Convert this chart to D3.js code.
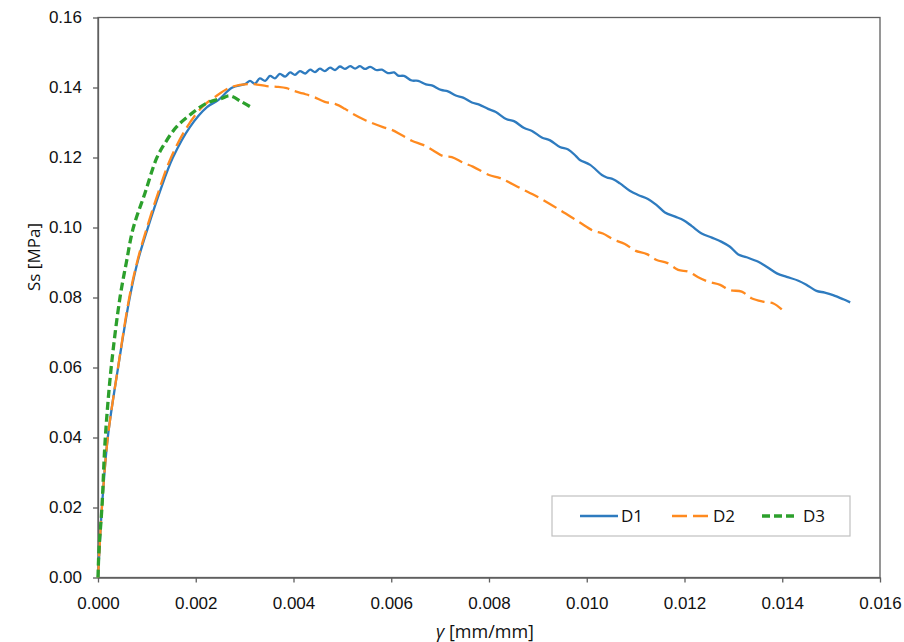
<!DOCTYPE html>
<meta charset="utf-8">
<style>
body { margin: 0; background: #fff; }
svg { font-family: "Open Sans", "Noto Sans", sans-serif; }
</style>
<svg width="904" height="642"></svg>
<script src="https://d3js.org/d3.v7.min.js"></script>
<script>

// D1 (blue, solid)
var d1x = [0, 0.00003, 0.00008, 0.00020, 0.00041, 0.00065, 0.00082, 0.00102, 0.00127, 0.00153, 0.00188, 0.00223, 0.00246, 0.00274, 0.00301,
  0.00311, 0.00321, 0.00331, 0.00342, 0.00352, 0.00362, 0.00372, 0.00383, 0.00393, 0.00403, 0.00413, 0.00424, 0.00434, 0.00444,
  0.00454, 0.00464, 0.00475, 0.00485, 0.00495, 0.00505, 0.00516, 0.00526, 0.00536, 0.00546, 0.00557, 0.00569, 0.00581, 0.00593, 0.00606,
  0.00614, 0.00626, 0.00642, 0.00655, 0.00671, 0.00683, 0.00702, 0.00716, 0.00732, 0.00747, 0.00765, 0.00780, 0.00798, 0.00814,
  0.00835, 0.00851, 0.00872, 0.00888, 0.00908, 0.00925, 0.00945, 0.00962, 0.00978,
  0.00986, 0.01007, 0.01031, 0.01041, 0.01054, 0.01068, 0.01088, 0.01105, 0.01126, 0.01143, 0.01160, 0.01181, 0.01198, 0.01215,
  0.01235, 0.01256, 0.01276, 0.01293, 0.01310, 0.01327, 0.01351, 0.01368, 0.01389, 0.01409, 0.01433, 0.01450, 0.01470, 0.01487,
  0.01504, 0.01525, 0.01539];
var d1y = [0, 0.0079, 0.0200, 0.0400, 0.0599, 0.0800, 0.0907, 0.0999, 0.1104, 0.1199, 0.1287, 0.1344, 0.1364, 0.1399, 0.1410,
  0.1419, 0.1411, 0.1426, 0.1419, 0.1433, 0.1426, 0.1439, 0.1431, 0.1443, 0.1436, 0.1447, 0.1440, 0.1451, 0.1444,
  0.1454, 0.1447, 0.1457, 0.1450, 0.1460, 0.1453, 0.1461, 0.1454, 0.1461, 0.1453, 0.1459, 0.1450, 0.1451, 0.1441, 0.1443,
  0.1434, 0.1433, 0.1420, 0.1419, 0.1409, 0.1406, 0.1393, 0.1389, 0.1377, 0.1371, 0.1357, 0.1351, 0.1339, 0.1330,
  0.1310, 0.1304, 0.1284, 0.1276, 0.1257, 0.1249, 0.1230, 0.1223, 0.1204,
  0.1193, 0.1179, 0.1150, 0.1143, 0.1138, 0.1126, 0.1105, 0.1093, 0.1081, 0.1064, 0.1043, 0.1031, 0.1021, 0.1004,
  0.0983, 0.0971, 0.0959, 0.0945, 0.0923, 0.0915, 0.0902, 0.0888, 0.0869, 0.0859, 0.0848, 0.0836, 0.0819, 0.0814,
  0.0807, 0.0795, 0.0786];

// D2 (orange, long dash)
var d2x = [0, 0.00003, 0.00008, 0.00020, 0.00041, 0.00064, 0.00081, 0.00100, 0.00123, 0.00149, 0.00182, 0.00213, 0.00239, 0.00274,
  0.00314, 0.00345, 0.00366, 0.00386, 0.00399, 0.00419, 0.00440, 0.00464, 0.00485, 0.00505, 0.00522, 0.00546, 0.00560, 0.00583,
  0.00601, 0.00621, 0.00642, 0.00665, 0.00685, 0.00706, 0.00724, 0.00747, 0.00767, 0.00800, 0.00823, 0.00863, 0.00904, 0.00945,
  0.00986, 0.01013, 0.01033, 0.01054, 0.01078, 0.01099, 0.01123, 0.01143, 0.01164, 0.01187, 0.01208, 0.01228, 0.01249, 0.01273,
  0.01293, 0.01317, 0.01337, 0.01361, 0.01382, 0.01399];
var d2y = [0, 0.0079, 0.0200, 0.0400, 0.0600, 0.0800, 0.0907, 0.0999, 0.1099, 0.1199, 0.1287, 0.1344, 0.1373, 0.1402,
  0.1410, 0.1404, 0.1402, 0.1398, 0.1391, 0.1383, 0.1374, 0.1359, 0.1353, 0.1339, 0.1324, 0.1307, 0.1299, 0.1287,
  0.1279, 0.1264, 0.1248, 0.1236, 0.1221, 0.1204, 0.1201, 0.1185, 0.1174, 0.1150, 0.1141, 0.1113, 0.1084, 0.1050,
  0.1014, 0.0991, 0.0983, 0.0966, 0.0953, 0.0934, 0.0924, 0.0907, 0.0899, 0.0879, 0.0874, 0.0858, 0.0845, 0.0836,
  0.0821, 0.0817, 0.0798, 0.0788, 0.0783, 0.0766];

// D3 (green, short dash)
var d3x = [0, 0.00002, 0.00008, 0.00015, 0.00027, 0.00045, 0.00058, 0.00072, 0.00096, 0.00120, 0.00137, 0.00161,
  0.00192, 0.00222, 0.00253, 0.00270, 0.00294, 0.00314];
var d3y = [0, 0.0079, 0.0200, 0.0400, 0.0600, 0.0800, 0.0900, 0.0998, 0.1098, 0.1198, 0.1241, 0.1288,
  0.1326, 0.1355, 0.1369, 0.1376, 0.1359, 0.1343];

var seriesNames = ["D1", "D2", "D3"];
var xTicks = [0, 0.002, 0.004, 0.006, 0.008, 0.010, 0.012, 0.014, 0.016];
var yTicks = [0, 0.02, 0.04, 0.06, 0.08, 0.10, 0.12, 0.14, 0.16];

var colors = ["#2e7bbf", "#ff8a1f", "#2ca02c"],
    dashes = [null, "15,6", "8,4"],
    widths = [2.3, 2.3, 3.3];

var svg = d3.select("svg");

var x = d3.scaleLinear().domain([0, 0.016]).range([98, 880]),
    y = d3.scaleLinear().domain([0, 0.16]).range([577.5, 17.5]);

var axisColor = "#5f5f5f",
    textColor = "#111";

// frame
svg.append("rect")
    .attr("x", x(0)).attr("y", y(0.16))
    .attr("width", x(0.016) - x(0)).attr("height", y(0) - y(0.16))
    .attr("fill", "none").attr("stroke", axisColor).attr("stroke-width", 1.3);

svg.append("g")
    .attr("transform", "translate(0," + y(0) + ")")
    .call(d3.axisBottom(x).tickValues(xTicks).tickFormat(d3.format(".3f")).tickSize(5).tickSizeOuter(0).tickPadding(14));

svg.append("g")
    .attr("transform", "translate(" + x(0) + ",0)")
    .call(d3.axisLeft(y).tickValues(yTicks).tickFormat(d3.format(".2f")).tickSize(5).tickSizeOuter(0).tickPadding(11));

svg.selectAll(".domain").attr("stroke", axisColor).attr("stroke-width", 1.3);
svg.selectAll(".tick line").attr("stroke", axisColor).attr("stroke-width", 1.3);
svg.selectAll(".tick text").attr("fill", textColor).style("font-size", "17px");

// axis titles
svg.append("text")
    .attr("x", 485).attr("y", 638)
    .attr("text-anchor", "middle")
    .style("font-size", "18px").attr("fill", textColor)
    .html('<tspan font-style="italic">γ</tspan> [mm/mm]');

svg.append("text")
    .attr("transform", "translate(40,257) rotate(-90)")
    .attr("text-anchor", "middle")
    .style("font-size", "17px").attr("fill", textColor)
    .text("Ss [MPa]");

// lines
var line = d3.line()
    .x(function(d) { return x(d[0]); })
    .y(function(d) { return y(d[1]); })
    .curve(d3.curveCatmullRom.alpha(0.5));

var series = [d3.zip(d1x, d1y), d3.zip(d2x, d2y), d3.zip(d3x, d3y)];

svg.append("g").selectAll("path")
  .data(series)
  .join("path")
    .attr("d", line)
    .attr("fill", "none")
    .attr("stroke", function(d, i) { return colors[i]; })
    .attr("stroke-width", function(d, i) { return widths[i]; })
    .attr("stroke-dasharray", function(d, i) { return dashes[i]; });

// legend
var legend = svg.append("g");
legend.append("rect")
    .attr("x", 552).attr("y", 496).attr("width", 298).attr("height", 40)
    .attr("fill", "#fff").attr("stroke", "#c0c0c0").attr("stroke-width", 1.2);

var legX = [580, 672, 762];
var item = legend.selectAll("g.item")
  .data(seriesNames)
  .join("g")
    .attr("class", "item")
    .attr("transform", function(d, i) { return "translate(" + legX[i] + ",516)"; });

item.append("line")
    .attr("x1", 0).attr("x2", function(d, i) { return i == 0 ? 38 : 36; })
    .attr("stroke", function(d, i) { return colors[i]; })
    .attr("stroke-width", function(d, i) { return widths[i]; })
    .attr("stroke-dasharray", function(d, i) { return dashes[i]; });

item.append("text")
    .attr("x", 41)
    .attr("y", 6)
    .style("font-size", "17px").attr("fill", textColor)
    .text(function(d) { return d; });

</script>
